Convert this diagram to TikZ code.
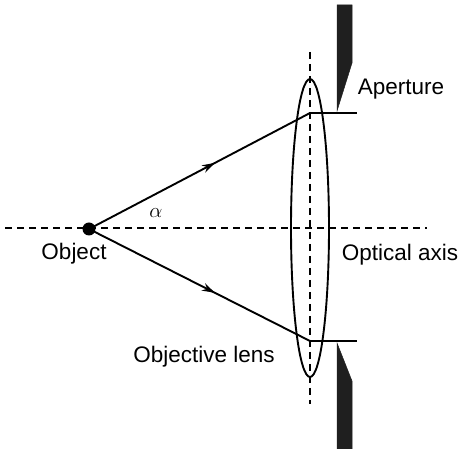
\documentclass[tikz,border=0pt]{standalone}
\usepackage{fontspec}
\setmainfont{Liberation Sans}
\usetikzlibrary{arrows.meta,decorations.markings}
\begin{document}
\begin{tikzpicture}[x=1pt,y=-1pt,
  ray/.style={line width=1.9pt,postaction={decorate},
    decoration={markings,mark=at position 0.57 with {\arrow{Stealth[length=13pt,width=8pt]}}}},
  axisline/.style={line width=1.6pt,dash pattern=on 7pt off 5pt},
  lbl/.style={font=\fontsize{22.5}{27}\selectfont,inner sep=0pt},
  blade/.style={fill=black!88,draw=black!88,line width=0.5pt},
]
\useasboundingbox (0,0) rectangle (459,449);
% axes
\coordinate (axL) at (5,228);
\coordinate (axR) at (427,228);
\draw[axisline] (axL) -- (axR);
\coordinate (lnT) at (310,52);
\coordinate (lnB) at (310,404);
\draw[axisline] (lnT) -- (lnB);
% lens
\draw[line width=1.9pt] (310,228) ellipse [x radius=19, y radius=149];
% object
\node[circle,fill=black,inner sep=0pt,minimum size=13pt] (obj) at (89,229) {};
% ray points
\coordinate (pU) at (310,113);
\coordinate (pD) at (310,341);
\coordinate (eU) at (357,113);
\coordinate (eD) at (357,341);
\draw[ray] (obj.center) -- (pU);
\draw[ray] (obj.center) -- (pD);
\draw[line width=1.9pt] (pU) -- (eU);
\draw[line width=1.9pt] (pD) -- (eD);
% aperture blades
\fill[blade] (337,5) -- (352,5) -- (352,63) -- (337,111) -- cycle;
\fill[blade] (337,343) -- (352,381) -- (352,449) -- (337,449) -- cycle;
% labels
\node[lbl] (ap) at (401,89) {Aperture};
\node[lbl] (oa) at (400,255) {Optical axis};
\node[lbl] (ob) at (74,254) {Object};
\node[lbl] (ol) at (204,357) {Objective lens};
\node[font=\fontsize{22.5}{27}\selectfont,inner sep=0pt] (al) at (156,213) {$\alpha$};
\end{tikzpicture}
\end{document}
